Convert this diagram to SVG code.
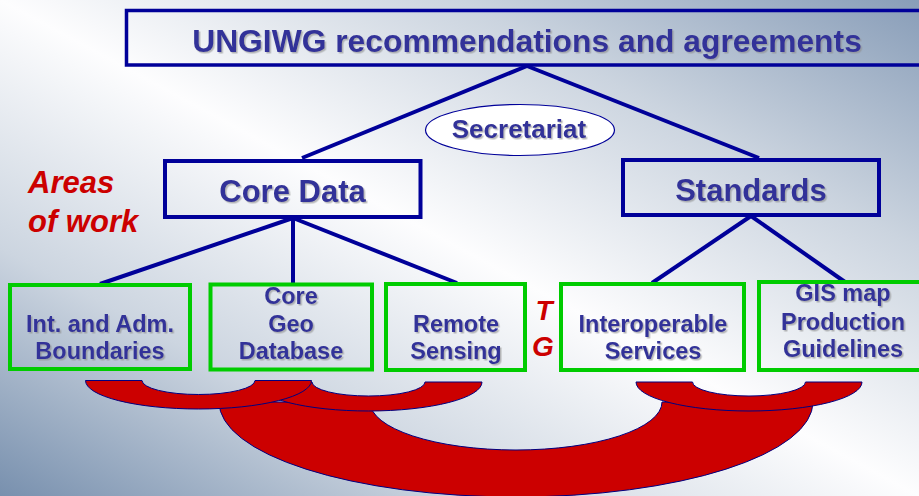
<svg xmlns="http://www.w3.org/2000/svg" width="919" height="496" viewBox="0 0 919 496">
<defs>
<linearGradient id="bg" x1="0" y1="1" x2="1" y2="0">
<stop offset="0" stop-color="#7890ae"/>
<stop offset="0.25" stop-color="#ccd5e0"/>
<stop offset="0.5" stop-color="#fdfdfe"/>
<stop offset="0.75" stop-color="#cbd4df"/>
<stop offset="1" stop-color="#889db8"/>
</linearGradient>
<filter id="sh" x="-10%" y="-30%" width="120%" height="160%">
<feDropShadow dx="1.5" dy="1.5" stdDeviation="0.4" flood-color="#8c8c8c" flood-opacity="0.6"/>
</filter>
<style>
.nb{fill:none;stroke:#000099;stroke-width:4}
.gb{fill:none;stroke:#00cc00;stroke-width:4}
.t{font-family:"Liberation Sans",Arial,sans-serif;font-weight:bold;fill:#333399;text-anchor:middle;filter:url(#sh)}
.big{font-size:31px}
.sm{font-size:23.5px}
.red{font-family:"Liberation Sans",Arial,sans-serif;font-weight:bold;font-style:italic;fill:#cc0000}
.ln{stroke:#000099;stroke-width:4;fill:none}
.arc{fill:#cc0000;stroke:#000080;stroke-width:1}
</style>
</defs>
<rect x="0" y="0" width="919" height="496" fill="url(#bg)"/>

<g id="connectors">
<line class="ln" x1="527" y1="66" x2="302" y2="158"/>
<line class="ln" x1="527" y1="66" x2="759" y2="158"/>
<line class="ln" x1="293" y1="218" x2="100" y2="284"/>
<line class="ln" x1="293" y1="218" x2="293" y2="284"/>
<line class="ln" x1="293" y1="218" x2="457" y2="283"/>
<line class="ln" x1="751" y1="216" x2="652" y2="283"/>
<line class="ln" x1="751" y1="216" x2="845" y2="282"/>
</g>

<g id="tg-arcs">
<path class="arc" d="M219,402 A297,95 0 0 0 813,402 L662,402 A146,48 0 0 1 370,402 Z"/>
<path class="arc" d="M636,382 A113,29 0 0 0 862,382 L805.5,382 A56.5,14 0 0 1 692.5,382 Z"/>
<path class="arc" d="M255,382 A113.5,29 0 0 0 482,382 L425,382 A56.5,14 0 0 1 312,382 Z"/>
<path class="arc" d="M85.5,380.5 A113,28.5 0 0 0 311.5,380.5 L255,380.5 A56.5,14 0 0 1 142,380.5 Z"/>
</g>

<g id="top">
<rect class="nb" x="126.5" y="10.5" width="800" height="54.5" style="stroke-width:3.5"/>
<text class="t" x="527" y="52" style="font-size:31.8px">UNGIWG recommendations and agreements</text>
</g>

<g id="secretariat">
<ellipse cx="520" cy="130" rx="94.5" ry="25.5" fill="#ffffff" stroke="#000099" stroke-width="1.2"/>
<text class="t" x="519" y="138" style="font-size:26px">Secretariat</text>
</g>

<g id="core-data">
<rect class="nb" x="165" y="161" width="255.5" height="56"/>
<text class="t big" x="292.5" y="202">Core Data</text>
</g>

<g id="standards">
<rect class="nb" x="623" y="160" width="256" height="55"/>
<text class="t big" x="751" y="201">Standards</text>
</g>

<g id="areas-of-work">
<text class="red" x="28" y="193" style="font-size:31px">Areas</text>
<text class="red" x="28" y="232" style="font-size:31px">of work</text>
</g>

<g id="int-adm">
<rect class="gb" x="10" y="285" width="180" height="84"/>
<text class="t sm" x="100" y="332">Int. and Adm.</text>
<text class="t sm" x="100" y="359">Boundaries</text>
</g>

<g id="core-geo">
<rect class="gb" x="210.5" y="284.5" width="161.5" height="85"/>
<text class="t sm" x="291" y="304">Core</text>
<text class="t sm" x="291" y="332">Geo</text>
<text class="t sm" x="291" y="359">Database</text>
</g>

<g id="remote-sensing">
<rect class="gb" x="386" y="284" width="139" height="86"/>
<text class="t sm" x="456" y="332">Remote</text>
<text class="t sm" x="456" y="359">Sensing</text>
</g>

<g id="tg">
<text class="red" x="544" y="320" text-anchor="middle" style="font-size:28px">T</text>
<text class="red" x="543" y="356" text-anchor="middle" style="font-size:28px">G</text>
</g>

<g id="interoperable">
<rect class="gb" x="561" y="284" width="183" height="86"/>
<text class="t sm" x="653" y="332">Interoperable</text>
<text class="t sm" x="653" y="359">Services</text>
</g>

<g id="gis-map">
<rect class="gb" x="759" y="282" width="170" height="88"/>
<text class="t sm" x="843" y="301">GIS map</text>
<text class="t sm" x="843" y="330">Production</text>
<text class="t sm" x="843" y="357">Guidelines</text>
</g>
</svg>
